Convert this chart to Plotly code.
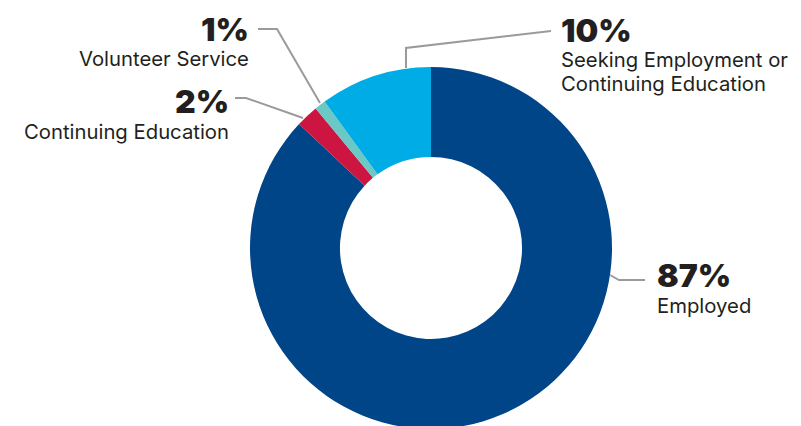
import plotly.graph_objects as go

W, H = 801, 426
OFF = 8  # page body margin offset

labels = ["Employed", "Continuing Education", "Volunteer Service", "Seeking Employment or<br>Continuing Education"]
values = [87, 2, 1, 10]
colors = ["#004587", "#CC1540", "#6CC8C4", "#00ACE6"]

def px(x):
    return (x - OFF) / W

def py(y):
    return 1 - (y - OFF) / H

cx, cy, r = 431, 248, 181
fig = go.Figure(go.Pie(
    labels=labels, values=values, hole=0.503, sort=False, direction="clockwise",
    rotation=0, textinfo="none", hoverinfo="label+percent",
    marker=dict(colors=colors, line=dict(width=0)),
    domain=dict(x=[px(cx - r), px(cx + r)], y=[py(cy + r), py(cy - r)]),
    showlegend=False,
))

BIG = dict(family="Inter, Lato, sans-serif", size=32, color="#231F20", weight=900)
SMALL = dict(family="Inter, Lato, sans-serif", size=20.3, color="#231F20")

# (label index, x, percent cap-centre y, anchor, label first-line cap-centre y)
placements = [
    (0, 656, 275.5, "left", 305.5),
    (1, 230, 101.5, "right", 131),
    (2, 250, 29.5, "right", 59),
    (3, 560, 30.5, "left", 59.5),
]
for i, x, y, anchor, ly in placements:
    fig.add_annotation(x=px(x), y=py(y), xref="paper", yref="paper", text=f"{values[i]}%",
                       showarrow=False, xanchor=anchor, yanchor="middle", font=BIG,
                       borderpad=0)
    for k, line in enumerate(labels[i].split("<br>")):
        fig.add_annotation(x=px(x), y=py(ly + 24 * k), xref="paper", yref="paper", text=line,
                           showarrow=False, xanchor=anchor, yanchor="middle", font=SMALL,
                           borderpad=0)

leaders = [
    [(258, 29), (277, 29), (320, 103)],
    [(235, 98), (246, 98), (303, 118)],
    [(551, 31), (406, 48), (406, 68)],
    [(645, 280), (619, 280), (610, 275)],
]
for pts in leaders:
    path = "M " + " L ".join(f"{px(a)},{py(b)}" for a, b in pts)
    fig.add_shape(type="path", path=path, xref="paper", yref="paper",
                  line=dict(color="#9A9A9A", width=2))

fig.update_layout(width=W, height=H, margin=dict(l=0, r=0, t=0, b=0),
                  paper_bgcolor="white", plot_bgcolor="white")
fig.write_html("out.html")
